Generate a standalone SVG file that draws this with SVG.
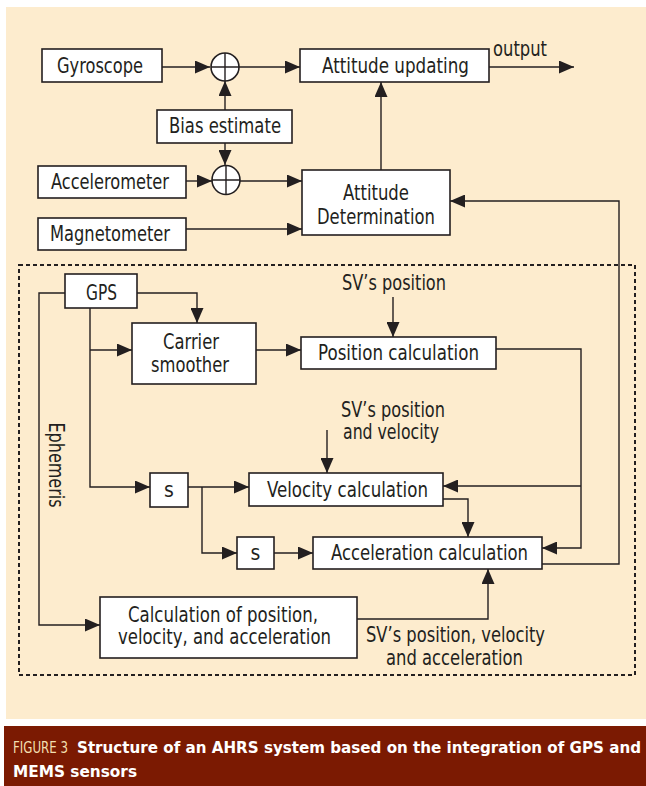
<svg xmlns="http://www.w3.org/2000/svg" width="646" height="786" viewBox="0 0 646 786">
<defs>
<marker id="ah" markerUnits="userSpaceOnUse" markerWidth="16" markerHeight="13" refX="15" refY="6.5" orient="auto">
<path d="M0,0 L15,6.5 L0,13 z" fill="#231f20"/>
</marker>
<style>
.bx{fill:#fff;stroke:#231f20;stroke-width:1.6}
.ln{fill:none;stroke:#231f20;stroke-width:1.4}
.ar{fill:none;stroke:#231f20;stroke-width:1.4;marker-end:url(#ah)}
.t{font-family:'Liberation Sans Narrow','DejaVu Sans Condensed','Liberation Sans',sans-serif;font-size:21px;fill:#231f20;text-anchor:middle}
.ts{text-anchor:start}
.cap{font-family:'Liberation Sans Narrow','DejaVu Sans Condensed','Liberation Sans',sans-serif;font-size:16.5px;font-weight:bold;fill:#fff}
.fig{font-family:'Liberation Sans Narrow','DejaVu Sans Condensed','Liberation Sans',sans-serif;font-size:15px;fill:#f3dfb0}
</style>
</defs>
<rect x="0" y="0" width="646" height="786" fill="#fff"/>
<rect x="6" y="7" width="640" height="712" fill="#fdecce"/>
<rect x="4" y="726" width="642" height="60" fill="#7b1a02"/>
<text class="fig" x="13" y="753" textLength="55" lengthAdjust="spacingAndGlyphs">FIGURE 3</text>
<text class="cap" x="77" y="753" textLength="564" lengthAdjust="spacingAndGlyphs">Structure of an AHRS system based on the integration of GPS and</text>
<text class="cap" x="13" y="777" textLength="124" lengthAdjust="spacingAndGlyphs">MEMS sensors</text>

<rect x="19" y="265" width="616" height="410" fill="none" stroke="#231f20" stroke-width="2" stroke-dasharray="4 3"/>

<g id="connectors">
<path class="ar" d="M162,67 H210"/>
<path class="ar" d="M239,67 H300"/>
<path class="ar" d="M489,67 H574"/>
<path class="ar" d="M225,110 V81"/>
<path class="ar" d="M225,143 V165"/>
<path class="ar" d="M186,181 H212"/>
<path class="ar" d="M240,181 H302"/>
<path class="ar" d="M186,229 H302"/>
<path class="ar" d="M381,170 V82"/>
<path class="ar" d="M542,564 H619 V201 H450"/>
<path class="ar" d="M65,293 H39 V625 H100"/>
<path class="ar" d="M137,293 H197 V323"/>
<path class="ar" d="M90,308 V487 H150"/>
<path class="ar" d="M90,350 H132"/>
<path class="ar" d="M256,350 H301"/>
<path class="ar" d="M393,297 V337"/>
<path class="ar" d="M496,349 H581 V548 H542"/>
<path class="ar" d="M581,486 H443"/>
<path class="ar" d="M327,430 V473"/>
<path class="ar" d="M188,487 H249"/>
<path class="ar" d="M202,487 V553 H237"/>
<path class="ar" d="M274,553 H313"/>
<path class="ar" d="M443,499 H468 V537"/>
<path class="ar" d="M357,619 H488 V569"/>
</g>

<g id="gyroscope"><rect class="bx" x="42" y="49" width="120" height="33"/><text class="t" x="100" y="73" textLength="86" lengthAdjust="spacingAndGlyphs">Gyroscope</text></g>
<g id="sum1"><ellipse class="bx" cx="225" cy="67" rx="14" ry="14"/><path class="ln" d="M211,67 H239 M225,53 V81"/></g>
<g id="attitude-updating"><rect class="bx" x="300" y="49" width="189" height="33"/><text class="t" x="395.5" y="73" textLength="147" lengthAdjust="spacingAndGlyphs">Attitude updating</text></g>
<g id="output"><text class="t ts" x="493" y="56" textLength="54" lengthAdjust="spacingAndGlyphs">output</text></g>
<g id="bias-estimate"><rect class="bx" x="157" y="110" width="135" height="33"/><text class="t" x="225" y="133" textLength="112" lengthAdjust="spacingAndGlyphs">Bias estimate</text></g>
<g id="sum2"><ellipse class="bx" cx="226" cy="180" rx="14" ry="14.5"/><path class="ln" d="M212,180 H240 M226,165.5 V194.5"/></g>
<g id="accelerometer"><rect class="bx" x="38" y="166" width="148" height="32"/><text class="t" x="110" y="189" textLength="118" lengthAdjust="spacingAndGlyphs">Accelerometer</text></g>
<g id="attitude-determination"><rect class="bx" x="302" y="170" width="148" height="65"/><text class="t" x="376" y="200" textLength="66" lengthAdjust="spacingAndGlyphs">Attitude</text><text class="t" x="376" y="224" textLength="118" lengthAdjust="spacingAndGlyphs">Determination</text></g>
<g id="magnetometer"><rect class="bx" x="38" y="218" width="148" height="32"/><text class="t" x="110" y="241" textLength="120" lengthAdjust="spacingAndGlyphs">Magnetometer</text></g>

<g id="gps"><rect class="bx" x="65" y="274" width="72" height="34"/><text class="t" x="101.5" y="300" textLength="31" lengthAdjust="spacingAndGlyphs">GPS</text></g>
<g id="ephemeris"><text class="t" transform="translate(49,465) rotate(90)" textLength="85" lengthAdjust="spacingAndGlyphs">Ephemeris</text></g>
<g id="carrier-smoother"><rect class="bx" x="132" y="323" width="124" height="61"/><text class="t" x="191" y="349" textLength="56" lengthAdjust="spacingAndGlyphs">Carrier</text><text class="t" x="190" y="372" textLength="78" lengthAdjust="spacingAndGlyphs">smoother</text></g>
<g id="sv-position"><text class="t" x="394" y="290" textLength="104" lengthAdjust="spacingAndGlyphs">SV’s position</text></g>
<g id="position-calculation"><rect class="bx" x="301" y="337" width="195" height="32"/><text class="t" x="398.5" y="360" textLength="161" lengthAdjust="spacingAndGlyphs">Position calculation</text></g>
<g id="sv-position-velocity"><text class="t" x="393" y="417" textLength="104" lengthAdjust="spacingAndGlyphs">SV’s position</text><text class="t" x="391" y="439" textLength="96" lengthAdjust="spacingAndGlyphs">and velocity</text></g>
<g id="s1"><rect class="bx" x="150" y="473" width="38" height="34"/><text class="t" x="169" y="497">s</text></g>
<g id="velocity-calculation"><rect class="bx" x="249" y="473" width="194" height="33"/><text class="t" x="347.5" y="497" textLength="161" lengthAdjust="spacingAndGlyphs">Velocity calculation</text></g>
<g id="s2"><rect class="bx" x="237" y="537" width="37" height="32"/><text class="t" x="255.5" y="560">s</text></g>
<g id="acceleration-calculation"><rect class="bx" x="313" y="537" width="229" height="32"/><text class="t" x="429.5" y="560" textLength="197" lengthAdjust="spacingAndGlyphs">Acceleration calculation</text></g>
<g id="calc-pva"><rect class="bx" x="100" y="597" width="257" height="61"/><text class="t" x="223" y="622" textLength="190" lengthAdjust="spacingAndGlyphs">Calculation of position,</text><text class="t" x="224.5" y="644" textLength="213" lengthAdjust="spacingAndGlyphs">velocity, and acceleration</text></g>
<g id="sv-pva"><text class="t" x="455.5" y="642" textLength="179" lengthAdjust="spacingAndGlyphs">SV’s position, velocity</text><text class="t" x="454.5" y="665" textLength="137" lengthAdjust="spacingAndGlyphs">and acceleration</text></g>
</svg>
